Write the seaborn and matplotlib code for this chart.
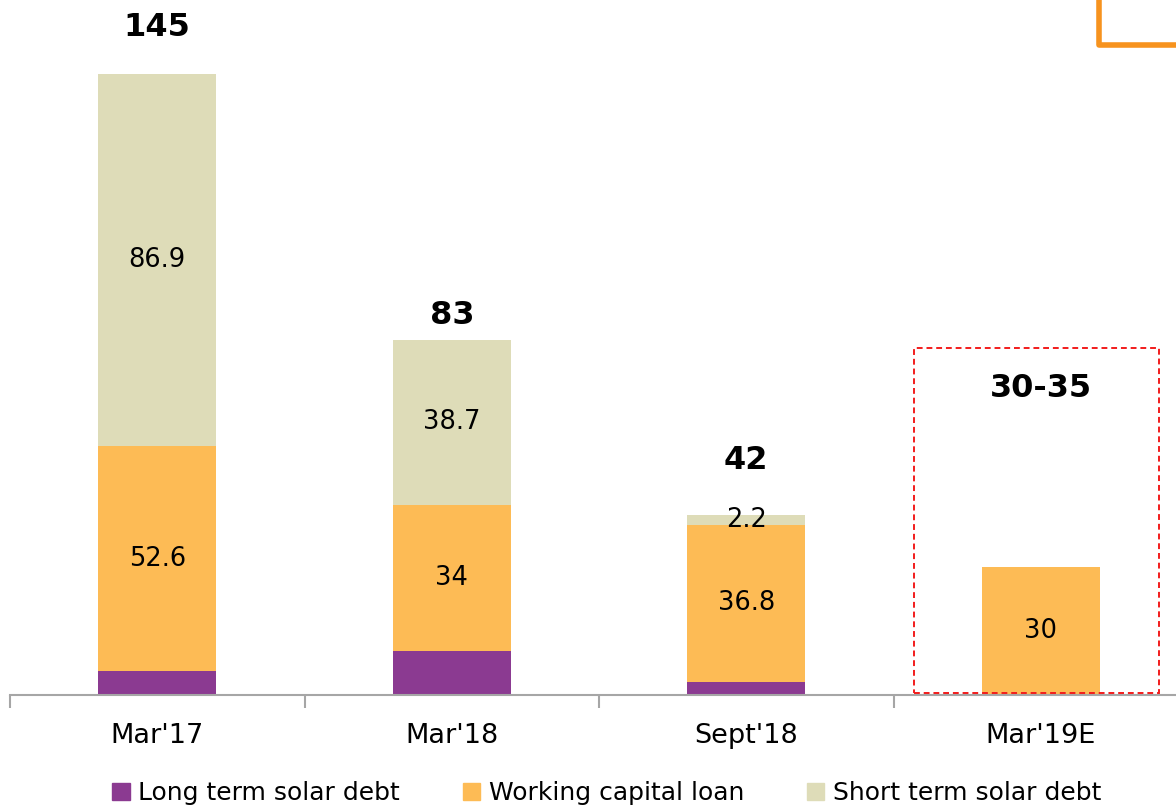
import numpy as np
import pandas as pd
import matplotlib
matplotlib.use('Agg')
import matplotlib.pyplot as plt
import seaborn as sns
from matplotlib.patches import Rectangle, Patch

# data
periods = ["Mar'17", "Mar'18", "Sept'18", "Mar'19E"]
long_term = [5.5, 10.3, 3.0, 0.0]
working_capital = [52.6, 34.0, 36.8, 30.0]
short_term = [86.9, 38.7, 2.2, 0.0]
total_labels = ['145', '83', '42', '30-35']
wc_labels = ['52.6', '34', '36.8', '30']
st_labels = ['86.9', '38.7', '2.2', '']

PURPLE = '#8B3A91'
ORANGE = '#FDBB55'
BEIGE = '#DEDCB8'
AXIS_GREY = '#A6A6A6'

sns.set_theme(style='white')
plt.rcParams['font.family'] = ['DejaVu Sans']
plt.rcParams['text.color'] = 'black'

df = pd.DataFrame({'period': periods, 'long': long_term,
                   'wc': working_capital, 'st': short_term})
df['lvl1'] = df['long']
df['lvl2'] = df['long'] + df['wc']
df['lvl3'] = df['lvl2'] + df['st']

fig = plt.figure(figsize=(11.76, 8.08), dpi=100)
ax = fig.add_axes([10 / 1176, 113 / 808, 1178 / 1176, 685 / 808])

# stacked bars drawn as layered cumulative totals
for col, c in [('lvl3', BEIGE), ('lvl2', ORANGE), ('lvl1', PURPLE)]:
    sns.barplot(data=df, x='period', y=col, order=periods, color=c,
                saturation=1, width=0.4, ax=ax, errorbar=None,
                linewidth=0, edgecolor='none')

ax.set_xlim(-0.5, 3.5)
ax.set_ylim(0, 160)
ax.set_xlabel('')
ax.set_ylabel('')
ax.set_yticks([])
for s in ['top', 'right', 'left']:
    ax.spines[s].set_visible(False)
ax.spines['bottom'].set_color(AXIS_GREY)
ax.spines['bottom'].set_linewidth(1.5)
ax.set_xticks(range(len(periods)))
ax.set_xticklabels(periods, fontsize=19.5, color='black')
ax.tick_params(axis='x', which='major', length=0, pad=20)
ax.set_xticks(np.arange(-0.5, len(periods), 1), minor=True)
ax.tick_params(axis='x', which='minor', bottom=True, length=9, width=1.5,
               color=AXIS_GREY, direction='out')

# segment labels
for i in range(len(periods)):
    if wc_labels[i]:
        ax.text(i, df['long'][i] + df['wc'][i] / 2, wc_labels[i],
                ha='center', va='center', fontsize=18.5, color='black')
    if st_labels[i]:
        ax.text(i, df['lvl2'][i] + df['st'][i] / 2, st_labels[i],
                ha='center', va='center', fontsize=18.5, color='black')

# totals above bars (pixel offsets above bar top)
total_pad = [47, 24, 55, 178]
for i, lab in enumerate(total_labels):
    ax.annotate(lab, (i, df['lvl3'][i]), xytext=(0, total_pad[i]),
                textcoords='offset pixels', ha='center', va='center',
                fontsize=23, fontweight='bold', color='black')

# red dashed box around the estimate
est = len(periods) - 1
ax.add_patch(Rectangle((est - 0.43, 0.4), 0.83, 80.6, fill=False,
                       edgecolor='#F21C1C', linestyle=(0, (3, 2)),
                       linewidth=1.4, zorder=5))

# decorative orange corner at top right
fig.add_artist(plt.Line2D([1099 / 1176, 1099 / 1176, 1.0],
                          [1.0, 1 - 45 / 808, 1 - 45 / 808],
                          color='#F7931E', linewidth=4,
                          solid_joinstyle='round'))

handles = [Patch(color=PURPLE, label='Long term solar debt'),
           Patch(color=ORANGE, label='Working capital loan'),
           Patch(color=BEIGE, label='Short term solar debt')]
fig.legend(handles=handles, loc='center', bbox_to_anchor=(0.516, 15 / 808),
           ncol=3, frameon=False, fontsize=18, labelcolor='black',
           handlelength=0.7, handleheight=0.7, handletextpad=0.35,
           columnspacing=2.5)

fig.savefig('out.png', dpi=100)
